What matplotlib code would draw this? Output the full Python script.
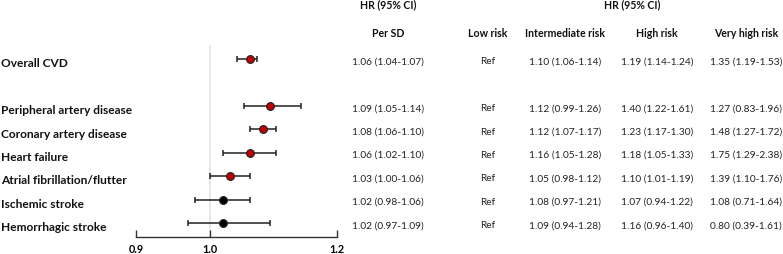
import matplotlib
matplotlib.use("Agg")
import matplotlib.pyplot as plt
import matplotlib.transforms as mtransforms
import numpy as np

plt.rcParams['font.family'] = ['Lato', 'DejaVu Sans']

# Outcomes and hazard ratios (per SD)
outcomes = ["Overall CVD", "Peripheral artery disease", "Coronary artery disease",
            "Heart failure", "Atrial fibrillation/flutter", "Ischemic stroke",
            "Hemorrhagic stroke"]
hr = [1.06, 1.09, 1.08, 1.06, 1.03, 1.02, 1.02]
lo = [1.04, 1.05, 1.06, 1.02, 1.00, 0.98, 0.97]
hi = [1.07, 1.14, 1.10, 1.10, 1.06, 1.06, 1.09]
significant = [True, True, True, True, True, False, False]

# Text columns
per_sd = ["1.06 (1.04-1.07)", "1.09 (1.05-1.14)", "1.08 (1.06-1.10)", "1.06 (1.02-1.10)",
          "1.03 (1.00-1.06)", "1.02 (0.98-1.06)", "1.02 (0.97-1.09)"]
low_risk = ["Ref"] * 7
intermediate = ["1.10 (1.06-1.14)", "1.12 (0.99-1.26)", "1.12 (1.07-1.17)", "1.16 (1.05-1.28)",
                "1.05 (0.98-1.12)", "1.08 (0.97-1.21)", "1.09 (0.94-1.28)"]
high = ["1.19 (1.14-1.24)", "1.40 (1.22-1.61)", "1.23 (1.17-1.30)", "1.18 (1.05-1.33)",
        "1.10 (1.01-1.19)", "1.07 (0.94-1.22)", "1.16 (0.96-1.40)"]
very_high = ["1.35 (1.19-1.53)", "1.27 (0.83-1.96)", "1.48 (1.27-1.72)", "1.75 (1.29-2.38)",
             "1.39 (1.10-1.76)", "1.08 (0.71-1.64)", "0.80 (0.39-1.61)"]
col_headers = ["Per SD", "Low risk", "Intermediate risk", "High risk", "Very high risk"]
xticks = [0.9, 1.0, 1.2]

W, H = 783, 255
fig = plt.figure(figsize=(W / 100, H / 100), dpi=100)

# forest axes: x in log scale, 0.9 -> 136px, 1.2 -> 336.7px, bottom at 238px
ax = fig.add_axes([136 / W, (H - 238.3) / H, 200.7 / W, 238.3 / H])
rows = np.array([0, 2, 3, 4, 5, 6, 7])
ax.set_xscale("log")
ax.set_xlim(0.9, 1.2)
ax.set_ylim(7.607, -2.577)

ax.plot([1.0, 1.0], [-0.57, 7.607], color="#e4e4e4", lw=1.2, zorder=0)

for r, h, l, u, s in zip(rows, hr, lo, hi, significant):
    ax.errorbar(h, r, xerr=[[h - l], [u - h]], fmt="none", ecolor="#222222",
                elinewidth=1.1, capsize=2.3, capthick=1.1, zorder=2)
    ax.plot(h, r, "o", ms=5.6, mfc="#c00000" if s else "black",
            mec="#222222", mew=0.8, zorder=3)

for sp in ["top", "left", "right"]:
    ax.spines[sp].set_visible(False)
ax.spines["bottom"].set_color("#333333")
ax.spines["bottom"].set_linewidth(1.0)
ax.set_yticks([])
ax.xaxis.set_minor_locator(matplotlib.ticker.NullLocator())
ax.set_xticks(xticks)
ax.set_xticklabels([f"{v:.1f}" for v in xticks], fontweight="bold", fontsize=7.8)
ax.tick_params(axis="x", direction="in", length=5, width=1.0, color="#333333", pad=4)

# text columns (figure x, data y)
tr = mtransforms.blended_transform_factory(fig.transFigure, ax.transData)
for r, name in zip(rows, outcomes):
    fig.text(1 / W, r + 0.15, name, transform=tr, ha="left", va="center",
             fontsize=8.6, fontweight="bold", color="#111111")

col_x = [388, 488, 565, 657, 746]
columns = [per_sd, low_risk, intermediate, high, very_high]
for cx, vals in zip(col_x, columns):
    for r, v in zip(rows, vals):
        fig.text(cx / W, r + 0.07, v, transform=tr, ha="center", va="center",
                 fontsize=7.3, color="#222222")

for cx, hd in zip(col_x, col_headers):
    fig.text(cx / W, -1.124, hd, transform=tr, ha="center", va="center",
             fontsize=7.6, fontweight="bold", color="#111111")

fig.text(388 / W, -2.363, "HR (95% CI)", transform=tr, ha="center", va="center",
         fontsize=7.6, fontweight="bold", color="#111111")
fig.text(632 / W, -2.363, "HR (95% CI)", transform=tr, ha="center", va="center",
         fontsize=7.6, fontweight="bold", color="#111111")

fig.savefig("out.png", dpi=100)
